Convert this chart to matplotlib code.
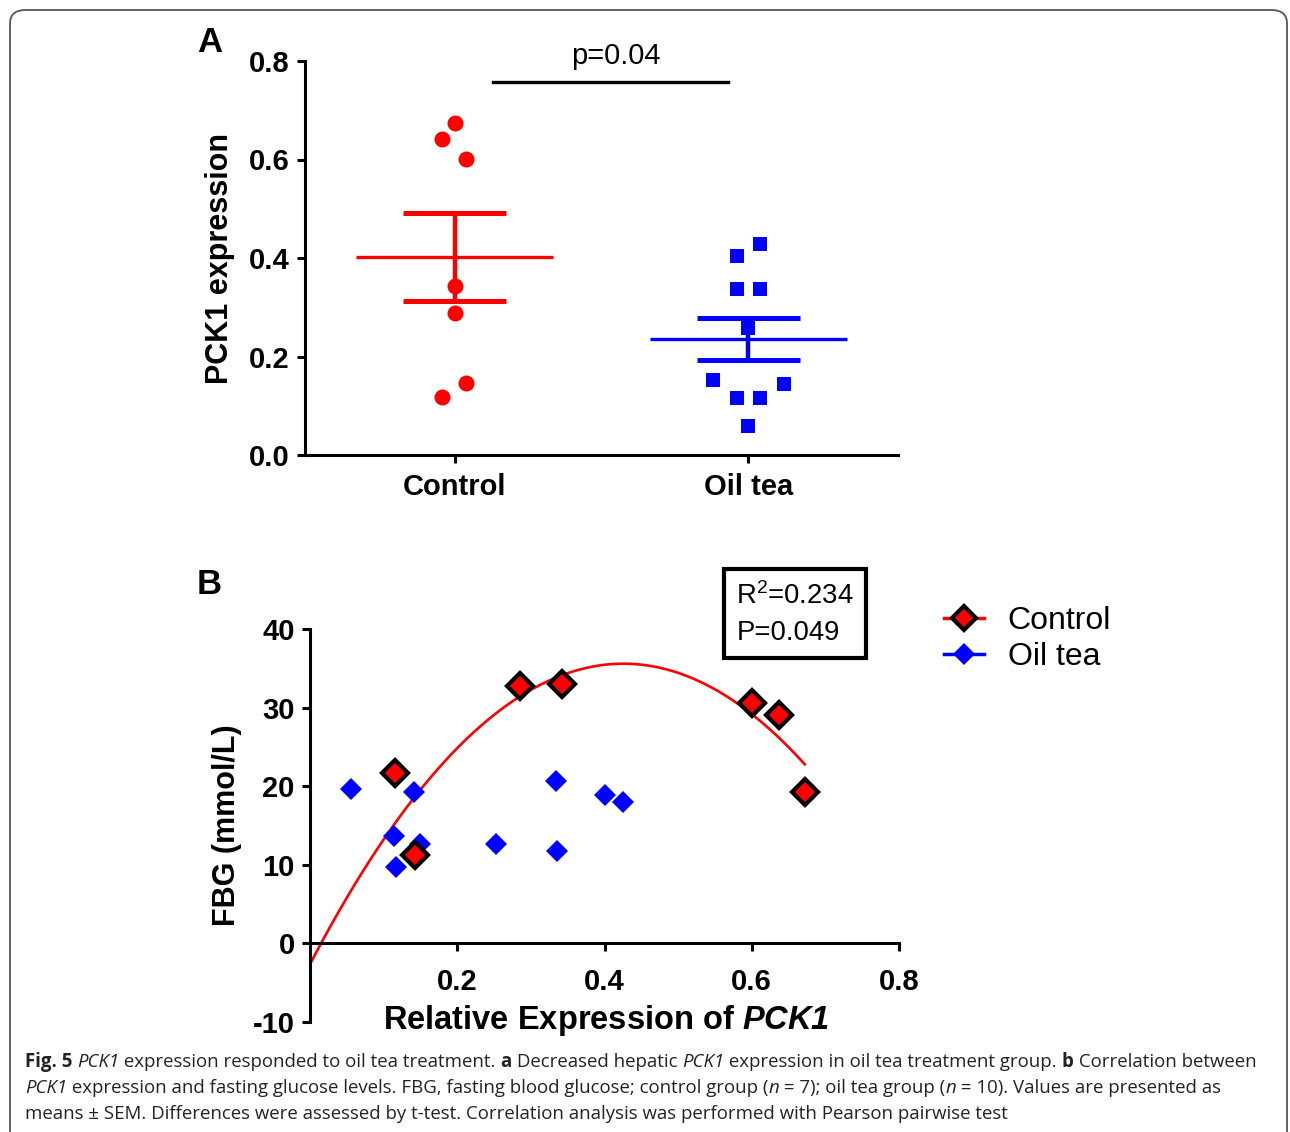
import numpy as np
import matplotlib
matplotlib.use('Agg')
import matplotlib.pyplot as plt
from matplotlib.lines import Line2D
from matplotlib.patches import FancyBboxPatch
from matplotlib import font_manager

# --- Data ---
groups = ['Control', 'Oil tea']
control_pck1 = [0.674, 0.642, 0.601, 0.343, 0.288, 0.146, 0.118]
oiltea_pck1 = [0.428, 0.404, 0.337, 0.337, 0.258, 0.152, 0.144, 0.116, 0.116, 0.059]
control_dx = [0.0, -0.045, 0.04, 0.0, 0.0, 0.04, -0.045]
oiltea_dx = [0.04, -0.04, -0.04, 0.04, 0.0, -0.12, 0.12, -0.04, 0.04, 0.0]
p_text = 'p=0.04'

ctrl_x = [0.115, 0.143, 0.285, 0.342, 0.600, 0.637, 0.672]
ctrl_fbg = [21.7, 11.2, 32.8, 33.0, 30.6, 29.1, 19.2]
oil_x = [0.056, 0.114, 0.117, 0.141, 0.149, 0.253, 0.334, 0.335, 0.400, 0.425]
oil_fbg = [19.6, 13.7, 9.7, 19.2, 12.6, 12.6, 20.7, 11.8, 18.9, 18.0]
stats_text = 'R$^2$=0.234\nP=0.049'

caption = [
    [("Fig. 5", 'bold', 'normal'), (" ", 'normal', 'normal'), ("PCK1", 'normal', 'italic'),
     (" expression responded to oil tea treatment. ", 'normal', 'normal'), ("a", 'bold', 'normal'),
     (" Decreased hepatic ", 'normal', 'normal'), ("PCK1", 'normal', 'italic'),
     (" expression in oil tea treatment group. ", 'normal', 'normal'), ("b", 'bold', 'normal'),
     (" Correlation between", 'normal', 'normal')],
    [("PCK1", 'normal', 'italic'),
     (" expression and fasting glucose levels. FBG, fasting blood glucose; control group (", 'normal', 'normal'),
     ("n", 'normal', 'italic'), (" = 7); oil tea group (", 'normal', 'normal'), ("n", 'normal', 'italic'),
     (" = 10). Values are presented as", 'normal', 'normal')],
    [("means \u00b1 SEM. Differences were assessed by t-test. Correlation analysis was performed with Pearson pairwise test",
      'normal', 'normal')],
]

# --- Fonts ---
installed = {f.name for f in font_manager.fontManager.ttflist}
main_font = 'Liberation Sans' if 'Liberation Sans' in installed else 'DejaVu Sans'
cap_font = next((f for f in ['Liberation Sans Narrow', 'Open Sans', 'Noto Sans'] if f in installed), main_font)
plt.rcParams['font.family'] = [main_font, 'DejaVu Sans']
plt.rcParams['axes.unicode_minus'] = False
plt.rcParams['mathtext.fontset'] = 'custom'
plt.rcParams['mathtext.rm'] = main_font
plt.rcParams['mathtext.it'] = main_font + ':italic'
plt.rcParams['mathtext.bf'] = main_font + ':bold'
plt.rcParams['mathtext.bfit'] = main_font + ':italic:bold'

fig = plt.figure(figsize=(12.9, 11.32), dpi=100)
W, H = 1290, 1132

def fbox(l, t, r, b):
    return [l / W, 1 - b / H, (r - l) / W, (b - t) / H]

# --- Panel A ---
ax = fig.add_axes(fbox(305, 61, 898, 455))
sets = [(control_pck1, control_dx, 'red', 'o', 11.5), (oiltea_pck1, oiltea_dx, 'blue', 's', 10.5)]
for i, (vals, dx, col, mk, ms) in enumerate(sets):
    v = np.array(vals)
    ax.plot(i + np.array(dx), v, linestyle='none', marker=mk, color=col, ms=ms, mew=0, zorder=3)
    m = v.mean()
    sem = v.std(ddof=1) / np.sqrt(len(v))
    ax.hlines(m, i - 0.335, i + 0.335, color=col, lw=2.4, zorder=4)
    ax.vlines(i, m - sem, m + sem, color=col, lw=3.2, zorder=4)
    ax.hlines([m - sem, m + sem], i - 0.175, i + 0.175, color=col, lw=3.6, zorder=4)

ax.set_xlim(-0.51, 1.51)
ax.set_ylim(0, 0.8)
ax.set_yticks([0, 0.2, 0.4, 0.6, 0.8])
ax.set_yticklabels(['0.0', '0.2', '0.4', '0.6', '0.8'])
ax.set_xticks([0, 1])
ax.set_xticklabels(groups)
for s in ['top', 'right']:
    ax.spines[s].set_visible(False)
for s in ['left', 'bottom']:
    ax.spines[s].set_linewidth(2.2)
ax.tick_params(width=2.2, length=6, labelsize=21, pad=5)
ax.tick_params(axis='x', pad=7)
for lab in ax.get_xticklabels() + ax.get_yticklabels():
    lab.set_fontweight('bold')
ax.set_ylabel('PCK1 expression', fontsize=22, fontweight='bold', labelpad=10)
ax.plot([0.13, 0.93], [0.758, 0.758], color='black', lw=2.4, clip_on=False)
ax.text(0.55, 0.782, p_text, ha='center', va='bottom', fontsize=21)

# --- Panel B ---
bx = fig.add_axes(fbox(310, 629, 899, 1022))
coef = np.polyfit(ctrl_x, ctrl_fbg, 2)
xs = np.linspace(0, max(ctrl_x), 200)
bx.plot(xs, np.polyval(coef, xs), color='red', lw=1.9, zorder=2)
bx.plot(oil_x, oil_fbg, linestyle='none', marker='D', color='blue', ms=11.5, mew=0, zorder=3)
bx.plot(ctrl_x, ctrl_fbg, linestyle='none', marker='D', mfc='red', mec='black', ms=13, mew=3, zorder=4)
bx.set_xlim(0, 0.8)
bx.set_ylim(-10, 40)
bx.set_xticks([0.2, 0.4, 0.6, 0.8])
bx.set_xticklabels(['0.2', '0.4', '0.6', '0.8'])
bx.set_yticks([-10, 0, 10, 20, 30, 40])
bx.spines['bottom'].set_position(('data', 0))
for s in ['top', 'right']:
    bx.spines[s].set_visible(False)
for s in ['left', 'bottom']:
    bx.spines[s].set_linewidth(2.2)
bx.tick_params(width=2.2, length=6, labelsize=21, pad=5)
bx.tick_params(axis='x', pad=12)
for lab in bx.get_xticklabels() + bx.get_yticklabels():
    lab.set_fontweight('bold')
bx.set_ylabel('FBG (mmol/L)', fontsize=22, fontweight='bold', labelpad=8)
bx.text(0.503, 0.005, r'Relative Expression of $\mathbfit{PCK1}$', transform=bx.transAxes,
        ha='center', va='center', fontsize=23.5, fontweight='bold')
bx.text(0.724, 1.12, stats_text, transform=bx.transAxes, ha='left', va='top', fontsize=19.8,
        linespacing=1.5,
        bbox=dict(boxstyle='square,pad=0.45', fc='white', ec='black', lw=3), clip_on=False)

handles = [Line2D([], [], color='red', lw=2.5, marker='D', mfc='red', mec='black', ms=12, mew=3),
           Line2D([], [], color='blue', lw=2.5, marker='D', ms=11, mew=0)]
fig.legend(handles, groups, loc='upper left', bbox_to_anchor=(928 / W, 1 - 590 / H), frameon=False,
           fontsize=23, handlelength=1.25, handletextpad=0.75, labelspacing=0.2, borderpad=0)

# --- Panel letters ---
fig.text(197 / W, 1 - 42 / H, 'A', fontsize=25, fontweight='bold', va='center')
fig.text(197 / W, 1 - 585 / H, 'B', fontsize=25, fontweight='bold', va='center')

# --- Border ---
fig.patches.append(FancyBboxPatch((10 / W, -0.05), 1277 / W, 1 - 10 / H + 0.05,
                                  boxstyle='round,pad=0,rounding_size=0.012', transform=fig.transFigure,
                                  fc='none', ec='#555555', lw=1.3))

# --- Caption ---
renderer = fig.canvas.get_renderer()
for li, line in enumerate(caption):
    x = 25 / W
    y = 1 - (1062 + 26 * li) / H
    for txt, wt, st in line:
        t = fig.text(x, y, txt, fontsize=13.4, fontweight=wt, fontstyle=st, family=[cap_font, 'DejaVu Sans'],
                     color='#222222', va='center', ha='left')
        bb = t.get_window_extent(renderer)
        x += bb.width / W

fig.savefig('out.png', dpi=100)
